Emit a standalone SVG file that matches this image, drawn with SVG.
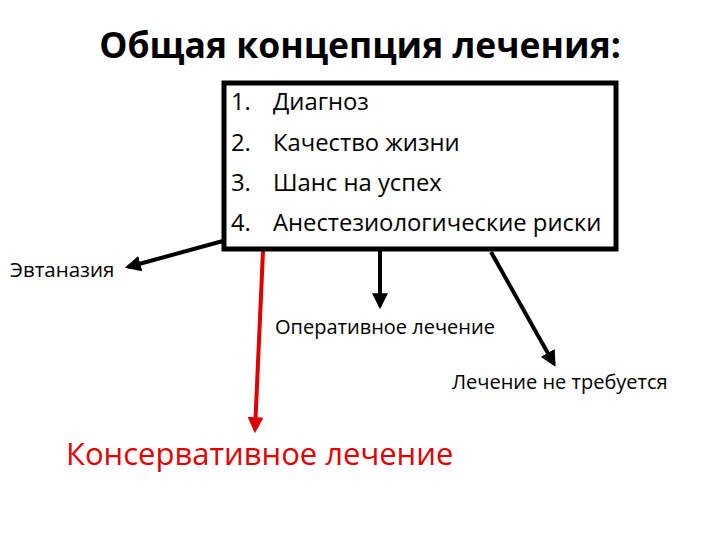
<svg xmlns="http://www.w3.org/2000/svg" width="720" height="540" viewBox="0 0 720 540">
<style>
text{font-family:"Open Sans","Liberation Sans",sans-serif;fill:#000}
.c{stroke:#000;stroke-width:4;fill:none}
</style>
<defs>
<marker id="ah" viewBox="0 0 10 10" refX="8" refY="5" markerWidth="4" markerHeight="4" orient="auto" markerUnits="strokeWidth"><path d="M0,0L10,5L0,10z" fill="#000"/></marker>
<marker id="ahr" viewBox="0 0 10 10" refX="8" refY="5" markerWidth="4" markerHeight="4" orient="auto" markerUnits="strokeWidth"><path d="M0,0L10,5L0,10z" fill="#e00000"/></marker>
</defs>
<rect width="720" height="540" fill="#fff"/>
<text x="360" y="58" text-anchor="middle" font-size="35.5" font-weight="bold">Общая концепция лечения:</text>
<g id="connectors">
<line class="c" x1="223" y1="241" x2="128" y2="267" marker-end="url(#ah)"/>
<line class="c" x1="263" y1="251" x2="255" y2="430" style="stroke:#e00000" marker-end="url(#ahr)"/>
<line class="c" x1="380" y1="251" x2="380" y2="306" marker-end="url(#ah)"/>
<line class="c" x1="491" y1="252" x2="554" y2="364" marker-end="url(#ah)"/>
</g>
<g id="box">
<rect x="224" y="83" width="392" height="166" fill="#fff" stroke="#000" stroke-width="5"/>
<g font-size="23.8">
<text x="231" y="110">1.</text><text x="273" y="110">Диагноз</text>
<text x="231" y="151">2.</text><text x="273" y="151">Качество жизни</text>
<text x="231" y="191">3.</text><text x="273" y="191">Шанс на успех</text>
<text x="231" y="231">4.</text><text x="273" y="231">Анестезиологические риски</text>
</g>
</g>
<g id="n1"><text x="10" y="277" font-size="20.5">Эвтаназия</text></g>
<g id="n2"><text x="275" y="334" font-size="20">Оперативное лечение</text></g>
<g id="n3"><text x="452" y="389" font-size="20">Лечение не требуется</text></g>
<g id="n4"><text x="66" y="465" font-size="31" style="fill:#e00000">Консервативное лечение</text></g>
</svg>
